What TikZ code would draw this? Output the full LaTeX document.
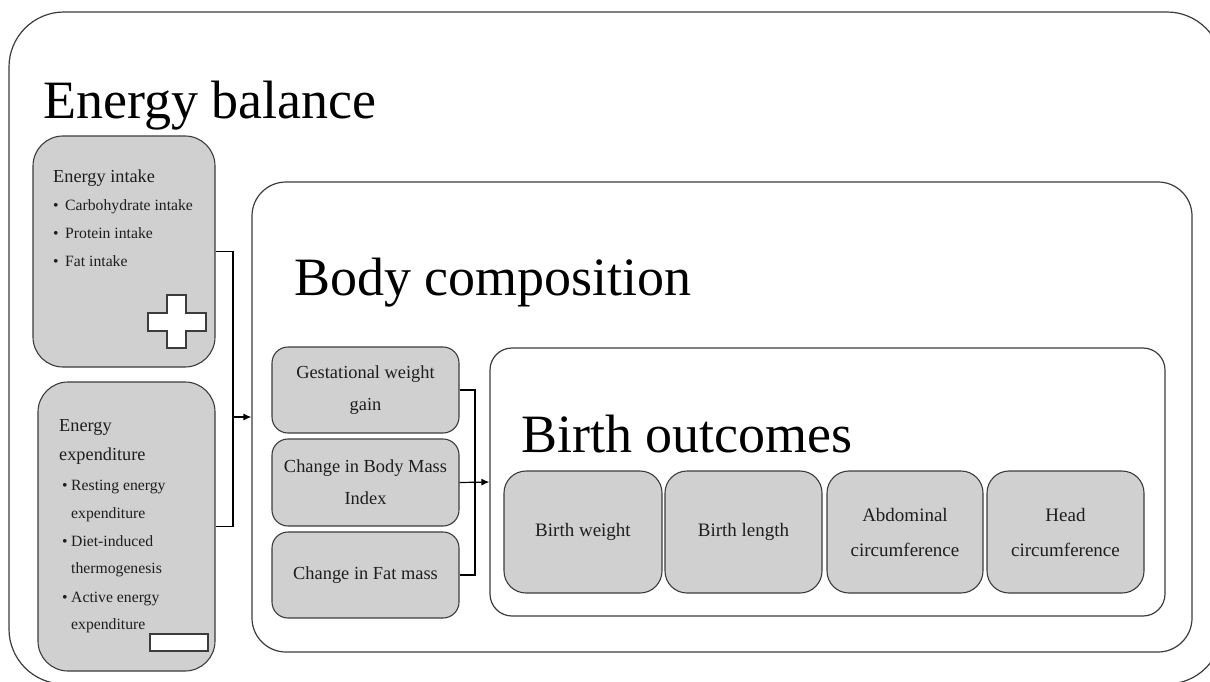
\documentclass[tikz,border=0pt]{standalone}
\usepackage{fontspec}
\setmainfont{Liberation Serif}
\usetikzlibrary{arrows.meta}
\definecolor{boxfill}{HTML}{D0D0D0}
\definecolor{edge}{HTML}{3C3C3C}
\definecolor{txt}{HTML}{1E1E1E}
\begin{document}
\begin{tikzpicture}[x=1pt,y=-1pt,
  frame/.style={draw=edge,line width=1.2pt,rectangle,inner sep=0pt,fill=white},
  graybox/.style={draw=edge,line width=1.1pt,rectangle,inner sep=0pt,fill=boxfill,align=center,text=txt},
  title/.style={anchor=base west,inner sep=0pt,font=\fontsize{54}{60}\selectfont},
  head/.style={anchor=base west,inner sep=0pt,text=txt,font=\fontsize{18.3}{20}\selectfont},
  item/.style={anchor=base west,inner sep=0pt,text=txt,font=\fontsize{15.7}{18}\selectfont},
  conn/.style={draw=black,line width=1.2pt},
  arr/.style={conn,-{Latex[length=8pt,width=7pt]}},
  sign/.style={draw=edge,line width=1.1pt,fill=white}]
\useasboundingbox (0,0) rectangle (1210,681);
% outer frame
\node[frame,rounded corners=55pt,minimum width=1213pt,minimum height=672pt] (outer) at (615.5,348) {};
\node[title] (tEB) at (43,118) {Energy balance};
% energy intake
\node[graybox,rounded corners=30pt,minimum width=182pt,minimum height=231pt] (intake) at (124,251.5) {};
\node[head] (hI) at (53,182) {Energy intake};
\node[item] (b1) at (53,210) {•}; \node[item] (i1) at (65,210) {Carbohydrate intake};
\node[item] (b2) at (53,238) {•}; \node[item] (i2) at (65,238) {Protein intake};
\node[item] (b3) at (53,266) {•}; \node[item] (i3) at (65,266) {Fat intake};
\draw[sign] (148,313) -- (167,313) -- (167,295) -- (186,295) -- (186,313) -- (206,313)
  -- (206,331) -- (186,331) -- (186,348) -- (167,348) -- (167,331) -- (148,331) -- cycle;
% energy expenditure
\node[graybox,rounded corners=30pt,minimum width=177pt,minimum height=289pt] (expend) at (126.5,526.5) {};
\node[head] (hE1) at (59,431) {Energy};
\node[head] (hE2) at (59,460) {expenditure};
\node[item] (e1b) at (62,490) {•}; \node[item] (e1) at (71,490) {Resting energy};
\node[item] (e1c) at (71,518) {expenditure};
\node[item] (e2b) at (62,546) {•}; \node[item] (e2) at (71,546) {Diet-induced};
\node[item] (e2c) at (71,573) {thermogenesis};
\node[item] (e3b) at (62,602) {•}; \node[item] (e3) at (71,602) {Active energy};
\node[item] (e3c) at (71,629) {expenditure};
\draw[sign] (150,634) rectangle (208,651);
% body composition
\node[frame,rounded corners=34pt,minimum width=940pt,minimum height=470pt] (body) at (722,417) {};
\node[title] (tBC) at (294,295) {Body composition};
\node[graybox,rounded corners=16pt,minimum width=187pt,minimum height=86pt,font=\fontsize{18.4}{32}\selectfont] (gwg) at (365.5,390) {Gestational weight\\gain};
\node[graybox,rounded corners=16pt,minimum width=187pt,minimum height=87pt,font=\fontsize{18.4}{32}\selectfont] (bmi) at (365.5,482.5) {Change in Body Mass\\Index};
\node[graybox,rounded corners=16pt,minimum width=187pt,minimum height=86pt,font=\fontsize{18.4}{32}\selectfont] (fat) at (365.5,575) {Change in Fat mass};
% birth outcomes
\node[frame,rounded corners=22pt,minimum width=675pt,minimum height=268pt] (birth) at (827.5,482) {};
\node[title] (tBO) at (521,452) {Birth outcomes};
\node[graybox,rounded corners=22pt,minimum width=158pt,minimum height=122pt,font=\fontsize{19}{35}\selectfont] (bw) at (583,532) {Birth weight};
\node[graybox,rounded corners=22pt,minimum width=157pt,minimum height=122pt,font=\fontsize{19}{35}\selectfont] (bl) at (743.5,532) {Birth length};
\node[graybox,rounded corners=22pt,minimum width=156pt,minimum height=122pt,font=\fontsize{19}{35}\selectfont] (ac) at (905,532) {Abdominal\\circumference};
\node[graybox,rounded corners=22pt,minimum width=157pt,minimum height=122pt,font=\fontsize{19}{35}\selectfont] (hc) at (1065.5,532) {Head\\circumference};
% connectors
\coordinate (j1) at (233,417);
\coordinate (j2) at (475,482);
\draw[conn] (intake.east) -| (j1) |- (expend.east);
\draw[arr] (j1) -- (body.west);
\draw[conn] (gwg.east) -| (j2) |- (fat.east);
\draw[arr] (bmi.east) -- (birth.west);
\end{tikzpicture}
\end{document}
